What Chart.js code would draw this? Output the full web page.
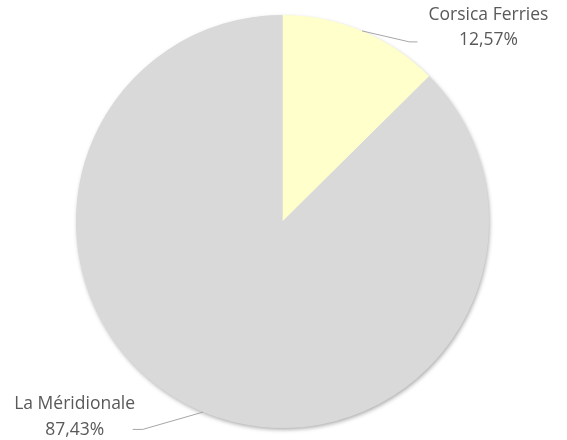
<!DOCTYPE html>
<html lang="fr">
<head>
<meta charset="UTF-8">
<title>Parts de marché</title>
<script src="https://cdn.jsdelivr.net/npm/chart.js"></script>
<style>
    body { margin: 0; background: #fff; }
</style>
</head>
<body>

<canvas id="shareChart" width="567" height="440"></canvas>

<script>
    var categories = ['Corsica Ferries', 'La Méridionale'];
    var shares = [12.57, 87.43];
    var sliceColours = ['#FFFFCC', '#D9D9D9'];

    function pct(v) {
        return v.toFixed(2).replace('.', ',') + '%';
    }

    // soft drop shadow under the whole pie, drawn once so slice edges stay clean
    var pieShadow = {
        id: 'pieShadow',
        beforeDatasetsDraw: function(chart) {
            var arc = chart.getDatasetMeta(0).data[0];
            if (!arc) return;
            var p = arc.getProps(['x', 'y', 'outerRadius'], true);
            var ctx = chart.ctx;
            ctx.save();
            ctx.shadowColor = 'rgba(0,0,0,0.35)';
            ctx.shadowBlur = 4;
            ctx.shadowOffsetX = 1;
            ctx.shadowOffsetY = 2;
            ctx.fillStyle = '#D9D9D9';
            ctx.beginPath();
            ctx.arc(p.x, p.y, p.outerRadius - 0.5, 0, Math.PI * 2);
            ctx.fill();
            ctx.restore();
        }
    };

    // callout labels with elbow leader lines
    var callouts = {
        id: 'callouts',
        afterDatasetsDraw: function(chart, args, opts) {
            var ctx = chart.ctx;
            var meta = chart.getDatasetMeta(0);
            meta.data.forEach(function(arc, i) {
                var p = arc.getProps(['x', 'y', 'startAngle', 'endAngle', 'outerRadius'], true);
                var mid = (p.startAngle + p.endAngle) / 2;
                var ax = p.x + p.outerRadius * Math.cos(mid);
                var ay = p.y + p.outerRadius * Math.sin(mid);
                var lay = opts.layout[i];
                var ex = ax + lay.elbow[0];
                var ey = ay + lay.elbow[1];
                var tx = ex + lay.tail;

                ctx.save();
                ctx.strokeStyle = '#A6A6A6';
                ctx.lineWidth = 1;
                ctx.beginPath();
                ctx.moveTo(ax, ay);
                ctx.lineTo(ex, ey);
                ctx.lineTo(tx, ey);
                ctx.stroke();

                ctx.fillStyle = '#595959';
                ctx.font = '17.5px "Open Sans"';
                ctx.textAlign = 'center';
                ctx.textBaseline = 'alphabetic';
                var cx = tx + lay.text[0];
                var by = ey + lay.text[1];
                ctx.fillText(chart.data.labels[i], cx, by);
                ctx.fillText(pct(chart.data.datasets[0].data[i]), cx, by + lay.lineGap);
                ctx.restore();
            });
        }
    };

    var ctx = document.getElementById('shareChart').getContext('2d');
    var shareChart = new Chart(ctx, {
        type: 'pie',
        data: {
            labels: categories,
            datasets: [{
                data: shares,
                backgroundColor: sliceColours,
                borderWidth: 0
            }]
        },
        options: {
            responsive: false,
            animation: false,
            layout: {
                padding: { left: 76, right: 78, top: 15, bottom: 12 }
            },
            plugins: {
                legend: { display: false },
                tooltip: { enabled: false },
                callouts: {
                    layout: [
                        { elbow: [47.5, 11], tail: 8, text: [71, -21.5], lineGap: 24.7 },
                        { elbow: [-60.4, 17.3], tail: -10, text: [-58, -20.7], lineGap: 26.7 }
                    ]
                }
            }
        },
        plugins: [pieShadow, callouts]
    });
</script>

</body>
</html>
